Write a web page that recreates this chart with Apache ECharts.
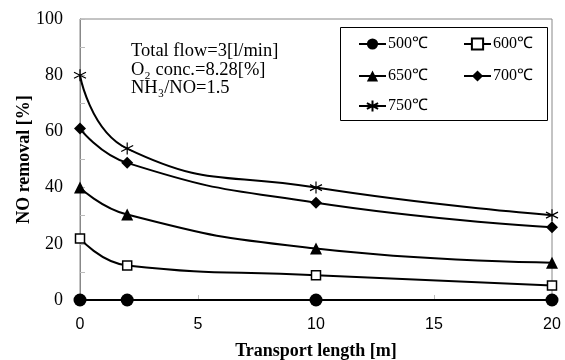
<!DOCTYPE html>
<html><head><meta charset="utf-8">
<script src="https://cdn.jsdelivr.net/npm/echarts@6/dist/echarts.min.js"></script>
<style>html,body{margin:0;padding:0;background:#fff}#c{width:565px;height:360px}</style>
</head><body><div id="c"></div>
<script>
const xValues = [0, 2, 10, 20];
const s500 = [0, 0, 0, 0];
const s600 = [21.9, 12.3, 8.8, 5.2];
const s650 = [40, 30.4, 18.3, 13.3];
const s700 = [61, 48.8, 34.6, 25.9];
const s750 = [80, 53.9, 40, 30.2];
const seriesNames = ['500℃', '600℃', '650℃', '700℃', '750℃'];
const yTicks = [0, 20, 40, 60, 80, 100];
const xTicks = [0, 5, 10, 15, 20];

const star = 'path://M0,-10 L0,10 M-8.66,-5 L8.66,5 M-8.66,5 L8.66,-5';
const pts = arr => xValues.map((x, i) => [x, arr[i]]);
const serif = '"Liberation Serif","Times New Roman",serif';
const sans = '"Liberation Sans",Arial,sans-serif';

function mk(name, data, symbol, size, fill) {
  return {
    name, type: 'line', data: pts(data), smooth: 0.5,
    symbol, symbolSize: size, showSymbol: true,
    lineStyle: {color: '#000', width: 2},
    itemStyle: {color: fill, borderColor: '#000', borderWidth: symbol === star ? 1.2 : (fill === '#fff' ? 1.5 : 0)},
    z: 3
  };
}

const series = [
  mk(seriesNames[0], s500, 'circle', 13, '#000'),
  mk(seriesNames[1], s600, 'rect', 9, '#fff'),
  mk(seriesNames[2], s650, 'triangle', 12, '#000'),
  mk(seriesNames[3], s700, 'diamond', 12, '#000'),
  mk(seriesNames[4], s750, star, 12, '#000')
];

const legendPos = [[358, 36], [463, 36], [358, 68], [463, 68], [358, 98]];
const legends = seriesNames.map((n, i) => ({
  data: [n], left: legendPos[i][0], top: legendPos[i][1],
  itemWidth: 27, itemHeight: 14, padding: 0,
  textStyle: {fontFamily: serif, fontSize: 16, color: '#000', padding: [0, 0, 0, -3]},
  selectedMode: false
}));

const chart = echarts.init(document.getElementById('c'), null, {renderer: 'canvas'});
chart.setOption({
  animation: false,
  backgroundColor: '#fff',
  grid: {left: 80, right: 13, top: 19, bottom: 60, show: true, borderColor: '#888', borderWidth: 1,
    containLabel: false, outerBoundsMode: 'none'},
  xAxis: {
    type: 'value', min: xTicks[0], max: xTicks[xTicks.length - 1], interval: 5,
    name: 'Transport length [m]', nameLocation: 'middle', nameGap: 42, nameMoveOverlap: false,
    nameTextStyle: {fontFamily: serif, fontWeight: 'bold', fontSize: 18, color: '#000'},
    axisLine: {lineStyle: {color: '#888'}},
    axisTick: {inside: true, length: 5, lineStyle: {color: '#bbb'}},
    axisLabel: {fontFamily: sans, fontSize: 16, color: '#000', margin: 17},
    splitLine: {show: false}
  },
  yAxis: {
    type: 'value', min: yTicks[0], max: yTicks[yTicks.length - 1], interval: 10,
    name: 'NO removal [%]', nameLocation: 'middle', nameGap: 47, nameRotate: 90, nameMoveOverlap: false,
    nameTextStyle: {fontFamily: serif, fontWeight: 'bold', fontSize: 18, color: '#000'},
    axisLine: {show: true, lineStyle: {color: '#888'}},
    axisTick: {inside: true, length: 5, lineStyle: {color: '#bbb'}},
    axisLabel: {fontFamily: serif, fontSize: 18, color: '#000', margin: 17,
      formatter: v => (yTicks.indexOf(v) >= 0 ? String(v) : '')},
    splitLine: {show: false}
  },
  legend: legends,
  graphic: [
    {type: 'rect', shape: {x: 340.5, y: 27.5, width: 207, height: 93}, style: {fill: 'none', stroke: '#000', lineWidth: 1}, z: 1},
    {type: 'text', left: 131, top: 42, style: {text: 'Total flow=3[l/min]', font: '18.5px ' + serif, fill: '#000'}},
    {type: 'text', left: 131, top: 61, style: {text: 'O₂ conc.=8.28[%]', font: '18.5px ' + serif, fill: '#000'}},
    {type: 'text', left: 131, top: 79, style: {text: 'NH₃/NO=1.5', font: '18.5px ' + serif, fill: '#000'}}
  ],
  series
});
</script></body></html>
